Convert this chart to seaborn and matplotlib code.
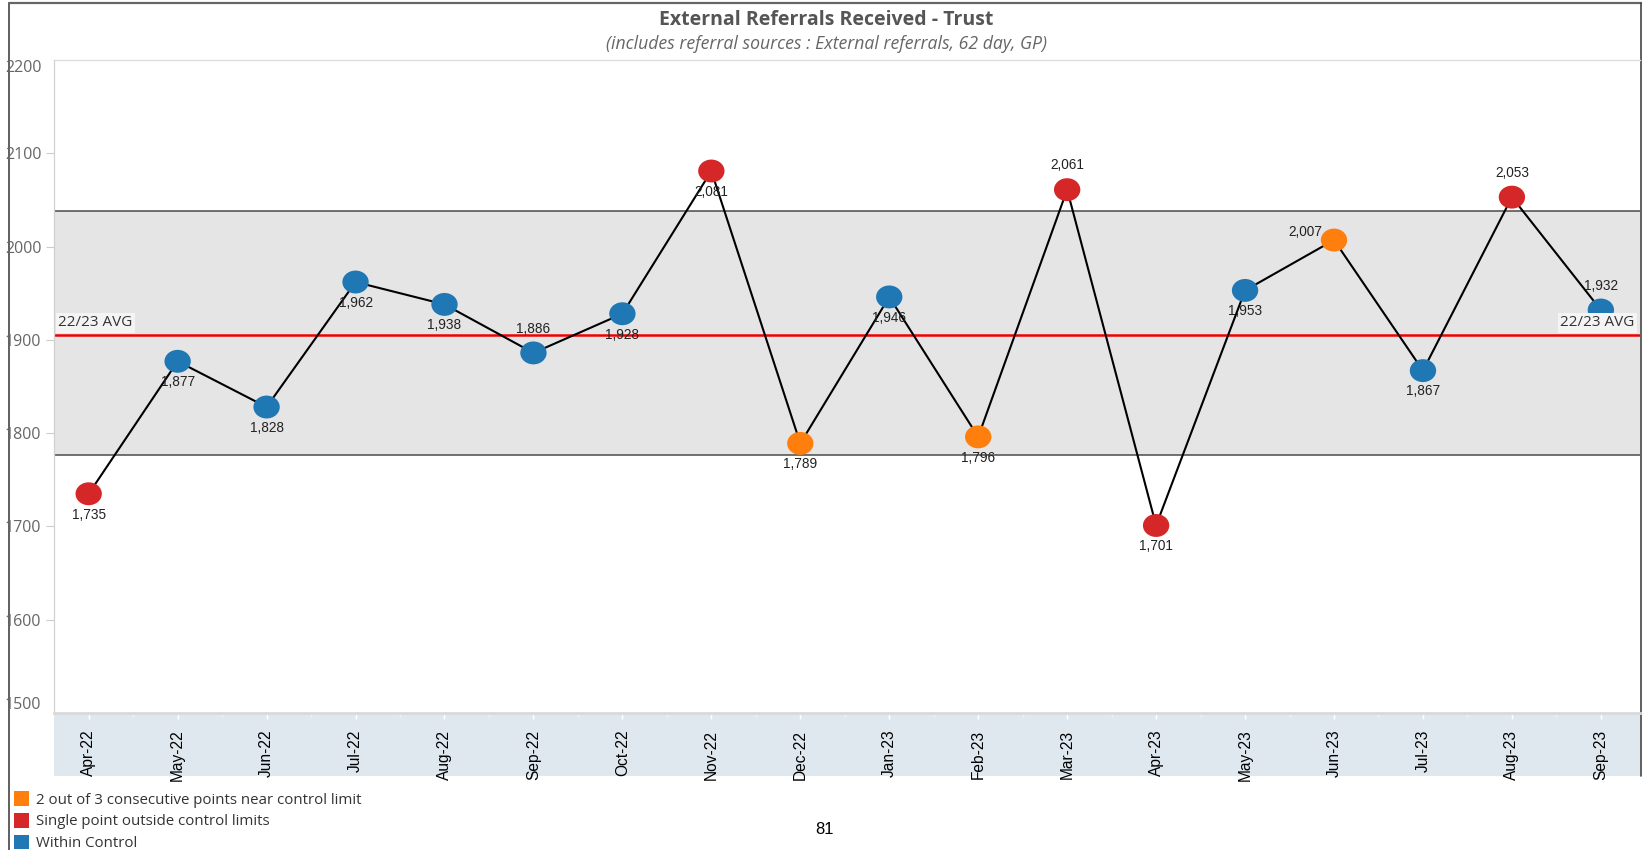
import matplotlib
matplotlib.use("Agg")
import numpy as np
import pandas as pd
import seaborn as sns
import matplotlib.pyplot as plt
from matplotlib.patches import Rectangle, Patch
from matplotlib.lines import Line2D
from matplotlib.path import Path
from matplotlib.transforms import Affine2D

# ---------------- data ----------------
months = ["Apr-22", "May-22", "Jun-22", "Jul-22", "Aug-22", "Sep-22", "Oct-22",
          "Nov-22", "Dec-22", "Jan-23", "Feb-23", "Mar-23", "Apr-23", "May-23",
          "Jun-23", "Jul-23", "Aug-23", "Sep-23"]
referrals = [1735, 1877, 1828, 1962, 1938, 1886, 1928, 2081, 1789, 1946,
             1796, 2061, 1701, 1953, 2007, 1867, 2053, 1932]
NEAR = "2 out of 3 consecutive points near control limit"
OUT = "Single point outside control limits"
IN = "Within Control"
status = [OUT, IN, IN, IN, IN, IN, IN, OUT, NEAR, IN,
          NEAR, OUT, OUT, IN, NEAR, IN, OUT, IN]
label_side = ["below", "below", "below", "below", "below", "above", "below",
              "below", "below", "below", "below", "above", "below", "below",
              "left", "below", "above", "above"]
avg_2223 = 1905
ucl = 2038
lcl = 1777
y_ticks = [1500, 1600, 1700, 1800, 1900, 2000, 2100, 2200]
legend_order = [NEAR, OUT, IN]
palette = {NEAR: "#ff7f0e", OUT: "#d62728", IN: "#1f77b4"}

df = pd.DataFrame({"month": months, "x": np.arange(len(months)),
                   "referrals": referrals, "status": status})

# ---------------- figure ----------------
sns.set_theme(style="white")
plt.rcParams["font.family"] = ["Open Sans", "DejaVu Sans"]

W, H = 1642, 850
fig = plt.figure(figsize=(W / 100, H / 100), dpi=100)
fig.patch.set_facecolor("white")

def fx(px):
    return px / W

def fy(py):
    return 1 - py / H

ax_l, ax_r, ax_t, ax_b = 54, 1640, 60, 713
ax = fig.add_axes([fx(ax_l), fy(ax_b), fx(ax_r - ax_l), (ax_b - ax_t) / H])
ax.set_facecolor("white")
ax.set_zorder(2)

# x-axis band
fig.add_artist(Rectangle((fx(ax_l), fy(776)), fx(ax_r - ax_l), (776 - ax_b) / H,
                         transform=fig.transFigure, facecolor="#dfe8ef",
                         edgecolor="none", zorder=0))

# control band and lines
ax.axhspan(lcl, ucl, color="#e5e5e5", zorder=0, lw=0)
ax.axhline(ucl, color="#4a4a4a", lw=1.1, zorder=1)
ax.axhline(lcl, color="#4a4a4a", lw=1.1, zorder=1)
ax.axhline(avg_2223, color="#f00000", lw=1.8, zorder=1)

ellipse = Path.unit_circle().transformed(Affine2D().scale(1.15, 1.0))

sns.lineplot(data=df, x="x", y="referrals", color="black", lw=1.5, ax=ax,
             zorder=3, legend=False)
sns.scatterplot(data=df, x="x", y="referrals", hue="status", palette=palette,
                s=360, marker=ellipse, linewidth=0, ax=ax, zorder=4, legend=False)

# data labels
offsets = {"below": (0, -15), "above": (0, 17.5), "left": (-21, 6)}
for xi, v, side in zip(df["x"], referrals, label_side):
    dx, dy = offsets[side]
    ax.annotate(f"{v:,}", (xi, v), xytext=(dx, dy), textcoords="offset points",
                ha="center", va="center", fontsize=9.8, color="#222222",
                family=["Liberation Sans", "DejaVu Sans"], zorder=5)

# average labels
bbox = dict(boxstyle="square,pad=0.15", facecolor="#f4f4f4", edgecolor="none")
ax.annotate("22/23 AVG", (0, avg_2223), xycoords=("axes fraction", "data"),
            xytext=(3, 3.5), textcoords="offset points", ha="left", va="bottom",
            fontsize=11, color="#333333", bbox=bbox, zorder=6)
ax.annotate("22/23 AVG", (1, avg_2223), xycoords=("axes fraction", "data"),
            xytext=(-4, 3.5), textcoords="offset points", ha="right", va="bottom",
            fontsize=11, color="#333333", bbox=bbox, zorder=6)

# axes styling
ax.set_xlim(-0.39, len(months) - 1 + 0.44)
ax.set_ylim(1500, 2200)
ax.set_yticks(y_ticks)
ax.set_yticklabels([str(t) for t in y_ticks])
ax.set_xticks(df["x"])
ax.set_xticklabels(months, rotation=90, fontsize=11.2,
                   family=["Liberation Sans", "DejaVu Sans"], color="black")
ax.set_xticks(df["x"][:-1] + 0.5, minor=True)
ax.tick_params(axis="x", which="major", length=4, width=1, color="white",
               pad=8, bottom=True)
ax.tick_params(axis="x", which="minor", length=3, width=1, color="#eef3f7",
               bottom=True)
ax.tick_params(axis="y", length=6, width=0.8, color="#cccccc",
               labelcolor="#666666", labelsize=11.5, pad=3, left=True)
for lab in ax.get_yticklabels():
    if lab.get_text() == "2200":
        lab.set_va("top")
    elif lab.get_text() == "1500":
        lab.set_va("bottom")
ax.yaxis.get_major_ticks()[-1].tick1line.set_visible(False)
ax.yaxis.get_major_ticks()[0].tick1line.set_visible(False)
ax.set_xlabel("")
ax.set_ylabel("")
ax.grid(False)
for side in ["left", "top", "right", "bottom"]:
    ax.spines[side].set_visible(True)
ax.spines["right"].set_visible(False)
ax.spines["left"].set_color("#d0d0d0")
ax.spines["left"].set_linewidth(0.9)
ax.spines["top"].set_color("#dddddd")
ax.spines["top"].set_linewidth(1.0)
ax.spines["bottom"].set_color("#d9d9d9")
ax.spines["bottom"].set_linewidth(2.0)

# titles
fig.text(fx(826), fy(20), "External Referrals Received - Trust", ha="center",
         va="center", fontsize=14, weight="bold", color="#555555")
fig.text(fx(826), fy(44), "(includes referral sources : External referrals, 62 day, GP)",
         ha="center", va="center", fontsize=12.7, style="italic", color="#666666")

# frame
fig.add_artist(Line2D([fx(9), fx(9)], [0, fy(3)], transform=fig.transFigure,
                      color="#444444", lw=1.2))
fig.add_artist(Line2D([fx(9), fx(1641)], [fy(3), fy(3)], transform=fig.transFigure,
                      color="#666666", lw=1.6))
fig.add_artist(Line2D([fx(1641), fx(1641)], [fy(776), fy(3)], transform=fig.transFigure,
                      color="#444444", lw=1.2))

# legend
handles = [Patch(facecolor=palette[k], edgecolor="none", label=k) for k in legend_order]
fig.legend(handles=handles, loc="upper left", bbox_to_anchor=(fx(14), fy(791)),
           frameon=False, fontsize=10.8, handlelength=1.0, handleheight=1.15,
           handletextpad=0.45, labelspacing=0.35, borderpad=0, borderaxespad=0,
           labelcolor="#333333")

fig.text(fx(825), fy(829), "81", ha="center", va="center", fontsize=12,
         family=["Liberation Sans", "DejaVu Sans"], color="black")

fig.savefig("out.png", dpi=100)
